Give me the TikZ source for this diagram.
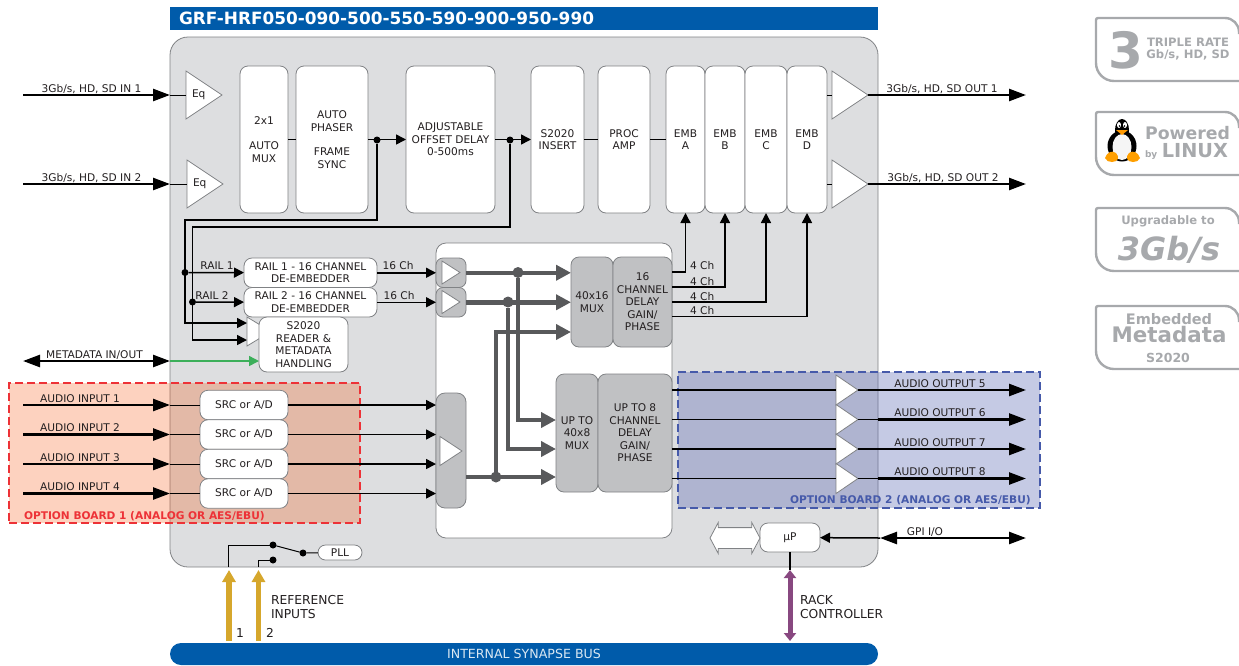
\documentclass[tikz,border=0pt]{standalone}
\usepackage{fontspec}
\setmainfont{DejaVu Sans}
\usetikzlibrary{shapes.geometric, shapes.arrows, arrows.meta, positioning}
\definecolor{synblue}{RGB}{0, 91, 170}
\definecolor{panelgray}{RGB}{221, 222, 224}
\definecolor{edgegray}{RGB}{128, 130, 133}
\definecolor{blockgray}{RGB}{192, 193, 195}
\definecolor{heavygray}{RGB}{88, 89, 91}
\definecolor{inktext}{RGB}{35, 31, 32}
\definecolor{redzone}{RGB}{248, 76, 0}
\definecolor{bluezone}{RGB}{94, 108, 180}
\definecolor{redtext}{RGB}{237, 50, 55}
\definecolor{bluetext}{RGB}{70, 90, 170}
\definecolor{refgold}{RGB}{214, 167, 44}
\definecolor{rackpurple}{RGB}{136, 72, 128}
\definecolor{metagreen}{RGB}{60, 175, 90}
\definecolor{badgegray}{RGB}{167, 169, 172}
\begin{document}
\begin{tikzpicture}[
    x=1pt, y=-1pt,
    node distance=8pt,
    every node/.style={font=\fontsize{10.6}{12.5}\selectfont, text=inktext, inner sep=0pt, outer sep=0pt},
    panel/.style={rectangle, draw=edgegray, fill=panelgray, rounded corners=18pt, line width=0.8pt},
    block/.style={rectangle, draw=edgegray, fill=white, rounded corners=8pt, line width=0.8pt, align=center},
    tallblock/.style={block, minimum height=147pt},
    srcblock/.style={block, minimum width=88pt, minimum height=29.5pt},
    darkblock/.style={block, fill=blockgray},
    tri/.style={isosceles triangle, isosceles triangle stretches, draw=edgegray, fill=white, line width=0.8pt, anchor=west, minimum width=48pt, minimum height=36pt},
    smalltri/.style={tri, minimum width=30pt, minimum height=22pt},
    dot/.style={circle, fill=black, minimum size=7pt},
    heavydot/.style={circle, fill=heavygray, minimum size=11pt},
    zone/.style={rectangle, line width=1.2pt, dash pattern=on 8pt off 4pt},
    sig/.style={anchor=base},
    wire/.style={line width=1pt, black},
    signal/.style={-{Triangle[length=10pt,width=10pt]}, line width=1.5pt, black},
    bigarrow/.style={-{Triangle[length=17pt,width=12pt]}, line width=2.5pt, black},
    heavy/.style={-{Triangle[length=15pt,width=15pt]}, line width=4.5pt, heavygray},
    fatarrow/.style={{Triangle[length=8pt,width=12pt]}-{Triangle[length=8pt,width=12pt]}, line width=5pt},
    badge/.style={draw=badgegray, line width=2.4pt},
    badgetext/.style={text=badgegray, font=\bfseries, align=center}
]
\useasboundingbox (0,0) rectangle (1239,665);

\node[rectangle, fill=synblue, minimum width=708pt, minimum height=23pt, anchor=north west] (titlebar) at (170,7) {};
\node[anchor=west, text=white, font=\fontsize{16.9}{18}\selectfont\bfseries] (titletext) at (179,18) {GRF-HRF050-090-500-550-590-900-950-990};
\node[panel, minimum width=708pt, minimum height=530pt, anchor=north west] (card) at (170,37) {};
\node[rectangle, fill=synblue, rounded corners=11pt, minimum width=708pt, minimum height=22pt, anchor=north west] (busbar) at (170,643) {};
\node[text=white!85!synblue, font=\fontsize{12.6}{14}\selectfont] (bustext) at (524,654) {INTERNAL SYNAPSE BUS};

\node[zone, draw=redtext, fill=redzone, fill opacity=0.25, text opacity=1, minimum width=351pt, minimum height=140pt, anchor=north west] (optiona) at (9,383) {};
\node[zone, draw=bluetext, fill=bluezone, fill opacity=0.36, text opacity=1, minimum width=362pt, minimum height=136pt, anchor=north west] (optionb) at (678,372) {};
\node[anchor=base west, text=redtext, font=\fontsize{10.6}{12}\selectfont\bfseries] (optionatext) at (24,519) {OPTION BOARD 1 (ANALOG OR AES/EBU)};
\node[anchor=base west, text=bluetext, font=\fontsize{10.6}{12}\selectfont\bfseries] (optionbtext) at (790,503) {OPTION BOARD 2 (ANALOG OR AES/EBU)};

\node[panel, fill=white, rounded corners=10pt, minimum width=236pt, minimum height=295pt, anchor=north west] (mixer) at (436,243) {};

\node[tri] (eqa) at (186,95) {};
\node[tri] (eqb) at (187,184) {};
\node[right=6pt of eqa.west] (eqatext) {Eq};
\node[right=6pt of eqb.west] (eqbtext) {Eq};

\node[tallblock, minimum width=48pt, anchor=north west] (automux) at (240,66) {2x1\\[12.5pt]AUTO\\MUX};
\node[tallblock, minimum width=72pt, right=of automux] (phaser) {AUTO\\PHASER\\[12pt]FRAME\\SYNC};
\node[tallblock, minimum width=89pt, right=38pt of phaser] (delay) {ADJUSTABLE\\OFFSET DELAY\\0-500ms};
\node[tallblock, minimum width=53pt, right=36pt of delay] (insert) {S2020\\INSERT};
\node[tallblock, minimum width=52pt, right=14pt of insert] (procamp) {PROC\\AMP};
\node[tallblock, minimum width=39pt, right=16pt of procamp] (emba) {EMB\\A};
\node[tallblock, minimum width=40pt, right=0pt of emba] (embb) {EMB\\B};
\node[tallblock, minimum width=42pt, right=0pt of embb] (embc) {EMB\\C};
\node[tallblock, minimum width=40pt, right=0pt of embc] (embd) {EMB\\D};
\node[tri] (outa) at (832,95) {};
\node[tri] (outb) at (832,184) {};

\coordinate (ina) at (23,95);
\coordinate (inb) at (23,184);
\coordinate (edgea) at (170,95);
\coordinate (edgeb) at (170,184);
\coordinate (enda) at (1026,95);
\coordinate (endb) at (1026,184);
\coordinate (emboa) at (827,95);
\coordinate (embob) at (827,184);
\draw[wire] (edgea) -- (eqa.west);
\draw[wire] (edgeb) -- (eqb.west);
\draw[bigarrow] (ina) -- (edgea);
\draw[bigarrow] (inb) -- (edgeb);
\draw[wire] (emboa) -- (outa.west);
\draw[wire] (embob) -- (outb.west);
\draw[bigarrow] (outa.east) -- (enda);
\draw[bigarrow] (outb.east) -- (endb);
\node[sig] (inatext) at (91.5,92.5) {3Gb/s, HD, SD IN 1};
\node[sig] (inbtext) at (91.5,181) {3Gb/s, HD, SD IN 2};
\node[sig] (outatext) at (942,92.5) {3Gb/s, HD, SD OUT 1};
\node[sig] (outbtext) at (943,181.5) {3Gb/s, HD, SD OUT 2};

\draw[wire] (automux) -- (phaser);
\draw[signal] (phaser) -- (delay);
\draw[signal] (delay) -- (insert);
\draw[wire] (insert) -- (procamp);
\draw[wire] (procamp) -- (emba);
\node[dot] (dotphaser) at (377,140) {};
\node[dot] (dotdelay) at (510,140) {};

\node[block, minimum width=133pt, minimum height=29.5pt, anchor=north west] (railadeemb) at (244,258) {RAIL 1 - 16 CHANNEL\\DE-EMBEDDER};
\node[block, minimum width=133pt, minimum height=29.5pt, below=0pt of railadeemb] (railbdeemb) {RAIL 2 - 16 CHANNEL\\DE-EMBEDDER};
\node[tri, minimum width=29pt, minimum height=24pt] (readertri) at (247,331.5) {};
\node[block, minimum width=89pt, minimum height=55pt, anchor=north west] (reader) at (259,317) {S2020\\READER \&\\METADATA\\HANDLING};

\node[dot] (dotraila) at (185,272.5) {};
\node[dot] (dotrailb) at (192.5,302) {};
\coordinate (trunka) at (185,220);
\coordinate (trunkb) at (192.5,227);
\coordinate (readera) at (247,323);
\coordinate (readerb) at (247,340);
\coordinate (tapa) at (377,220);
\coordinate (tapb) at (510,227);
\draw[signal] (dotphaser) -- (tapa) -- (trunka) |- (readera);
\draw[signal] (dotdelay) -- (tapb) -- (trunkb) |- (readerb);
\draw[signal] (dotraila) -- (railadeemb);
\draw[signal] (dotrailb) -- (railbdeemb);
\node[sig] (railatext) at (217,269) {RAIL 1};
\node[sig] (railbtext) at (212,299) {RAIL 2};

\node[darkblock, rounded corners=7pt, minimum width=30pt, minimum height=29.5pt, anchor=north west] (bufa) at (436,258) {};
\node[darkblock, rounded corners=7pt, minimum width=30pt, minimum height=29.5pt, below=0pt of bufa] (bufb) {};
\node[darkblock, rounded corners=9pt, minimum width=30pt, minimum height=115pt, anchor=north west] (bufc) at (436,393) {};
\node[smalltri, minimum width=23pt, minimum height=18pt] (triana) at (442,272.5) {};
\node[smalltri, minimum width=23pt, minimum height=18pt] (trianb) at (442,302) {};
\node[smalltri, minimum width=29pt, minimum height=22pt] (trianc) at (440,451) {};

\draw[signal] (railadeemb) -- (bufa);
\draw[signal] (railbdeemb) -- (bufb);
\node[sig] (chatext) at (398,269) {16 Ch};
\node[sig] (chbtext) at (399,299) {16 Ch};

\node[darkblock, minimum width=42pt, minimum height=90pt, anchor=north west] (muxa) at (571,257) {40x16\\MUX};
\node[darkblock, minimum width=59pt, minimum height=90pt, right=0pt of muxa] (gaina) {16\\CHANNEL\\DELAY\\GAIN/\\PHASE};
\node[darkblock, minimum width=42pt, minimum height=118pt, anchor=north west] (muxb) at (556,374) {UP TO\\40x8\\MUX};
\node[darkblock, minimum width=74pt, minimum height=118pt, right=0pt of muxb] (gainb) {UP TO 8\\CHANNEL\\DELAY\\GAIN/\\PHASE};

\coordinate (busc) at (466,477);
\node[heavydot] (dota) at (518,272.5) {};
\node[heavydot] (dotb) at (508,302) {};
\node[heavydot] (dotc) at (496,477) {};
\coordinate (mixa) at (518,420);
\coordinate (mixb) at (508,449);
\coordinate (mixc) at (496,332);
\draw[heavy] (bufa.east) -- (muxa.west |- bufa.east);
\draw[heavy] (bufb.east) -- (muxa.west |- bufb.east);
\draw[heavy] (dota) |- (muxb.west |- mixa);
\draw[heavy] (dotb) |- (muxb.west |- mixb);
\draw[heavy] (dotc) |- (muxa.west |- mixc);
\draw[heavy] (busc) -- (muxb.west |- busc);

\coordinate (gaa) at (672,272);
\coordinate (gab) at (672,287);
\coordinate (gac) at (672,302);
\coordinate (gad) at (672,316.5);
\draw[signal] (gaa) -| (emba.south);
\draw[signal] (gab) -| (embb.south);
\draw[signal] (gac) -| (embc.south);
\draw[signal] (gad) -| (embd.south);
\node[sig, anchor=base west] (fourchaa) at (690,269) {4 Ch};
\node[sig, anchor=base west] (fourchab) at (690,285) {4 Ch};
\node[sig, anchor=base west] (fourchac) at (690,300) {4 Ch};
\node[sig, anchor=base west] (fourchad) at (690,314) {4 Ch};

\coordinate (metaa) at (23,361);
\coordinate (metab) at (170,361);
\draw[{Triangle[length=17pt,width=12pt]}-{Triangle[length=17pt,width=12pt]}, line width=2.5pt] (metaa) -- (metab);
\draw[-{Triangle[length=10pt,width=10pt]}, line width=1.5pt, metagreen] (metab) -- (reader.west |- metab);
\node[sig] (metatext) at (94.5,358) {METADATA IN/OUT};

\foreach \idx/\ypos/\lbl in {a/405/1, b/434.5/2, c/464/3, d/493.5/4} {
    \node[srcblock] (src\idx) at (244,\ypos) {SRC or A/D};
    \coordinate (audin\idx) at (23,\ypos);
    \coordinate (audedge\idx) at (170,\ypos);
    \draw[wire] (audedge\idx) -- (src\idx);
    \draw[bigarrow] (audin\idx) -- (audedge\idx);
    \draw[signal] (src\idx) -- (bufc.west |- src\idx);
    \node[sig] (audtext\idx) at (80,\ypos-3) {AUDIO INPUT \lbl};
}

\foreach \idx/\ypos/\lbl in {a/390/5, b/419.5/6, c/449/7, d/478.5/8} {
    \node[smalltri] (audtri\idx) at (836,\ypos) {};
    \coordinate (audsrc\idx) at (672,\ypos);
    \coordinate (audout\idx) at (1026,\ypos);
    \coordinate (audcard\idx) at (878,\ypos);
    \draw[wire, line width=1.3pt] (audsrc\idx) -- (audtri\idx.west);
    \draw[wire, line width=1.3pt] (audtri\idx.east) -- (audcard\idx);
    \draw[bigarrow] (audcard\idx) -- (audout\idx);
    \node[sig] (audouttext\idx) at (940,\ypos-3) {AUDIO OUTPUT \lbl};
}

\node[block, minimum width=60pt, minimum height=29pt, anchor=north west] (micro) at (760,523) {µP};
\node[double arrow, draw=edgegray, fill=white, line width=0.8pt, inner ysep=10pt, minimum height=50pt, minimum width=30pt, double arrow head extend=5pt, double arrow head indent=0pt, double arrow tip angle=124, anchor=east] (hostarrow) at (760,538) {};
\coordinate (gpia) at (880,538);
\coordinate (gpib) at (1026,538);
\draw[-{Triangle[length=10pt,width=10pt]}, line width=1.5pt] (gpia) -- (micro);
\draw[{Triangle[length=17pt,width=12pt]}-{Triangle[length=17pt,width=12pt]}, line width=2.5pt] (gpia) -- (gpib);
\node[sig] (gpitext) at (925,535) {GPI I/O};

\coordinate (racka) at (790,570);
\coordinate (rackb) at (790,641);
\draw[wire, line width=1.2pt] (micro) -- (racka);
\draw[fatarrow, rackpurple] (racka) -- (rackb);
\node[align=left, anchor=west, font=\fontsize{12.3}{14.5}\selectfont] (racktext) at (800,607) {RACK\\CONTROLLER};

\coordinate (refa) at (229,641);
\coordinate (refb) at (258.5,641);
\coordinate (refatip) at (229,570);
\coordinate (refbtip) at (258.5,570);
\draw[-{Triangle[length=12pt,width=13pt]}, line width=5.5pt, refgold] (refa) -- (refatip);
\draw[-{Triangle[length=12pt,width=13pt]}, line width=5.5pt, refgold] (refb) -- (refbtip);
\node[sig, anchor=base west, font=\fontsize{12.3}{14}\selectfont] (refaidx) at (236,637.5) {1};
\node[sig, anchor=base west, font=\fontsize{12.3}{14}\selectfont] (refbidx) at (266,637.5) {2};
\node[align=left, anchor=west, font=\fontsize{12.3}{14.5}\selectfont] (reftext) at (271,607) {REFERENCE\\INPUTS};

\node[block, rounded corners=7.5pt, minimum width=44pt, minimum height=15pt, anchor=north west] (pll) at (318,545) {PLL};
\node[dot] (swa) at (273,545) {};
\node[dot] (swb) at (273,560) {};
\node[dot] (swc) at (303,553) {};
\coordinate (refaedge) at (228,567);
\coordinate (refbedge) at (258,567);
\draw[wire] (refaedge) |- (swa);
\draw[wire] (refbedge) |- (swb);
\draw[wire] (swa) -- (swc) -- (pll);

\foreach \ytop in {18, 112, 208, 306} {
    \draw[badge] (1239,\ytop+16) [rounded corners=14pt] -- (1239,\ytop) [rounded corners=2pt] -- (1096,\ytop) [rounded corners=18pt] -- (1096,\ytop+63) -- (1250,\ytop+63);
}
\node[badgetext, font=\fontsize{50}{50}\selectfont\bfseries] (threebig) at (1126,50) {3};
\node[badgetext, font=\fontsize{11.6}{12}\selectfont\bfseries] (triplerate) at (1188,49) {TRIPLE RATE\\Gb/s, HD, SD};
\node[badgetext, font=\fontsize{17.3}{18}\selectfont\bfseries, anchor=base east] (poweredtext) at (1230,139) {Powered};
\node[badgetext, font=\fontsize{9}{10}\selectfont\bfseries, anchor=base west] (bytext) at (1145,157) {by};
\node[badgetext, font=\fontsize{19.3}{20}\selectfont\bfseries, anchor=base east] (linuxtext) at (1228,157) {LINUX};
\node[badgetext, font=\fontsize{11.6}{12}\selectfont\bfseries] (upgradetext) at (1168,221) {Upgradable to};
\node[badgetext, font=\fontsize{32}{33}\selectfont\bfseries\itshape] (threegbtext) at (1169,250) {3Gb/s};
\node[badgetext, font=\fontsize{14.5}{15}\selectfont\bfseries] (embeddedtext) at (1169,319) {Embedded};
\node[badgetext, font=\fontsize{21.4}{22}\selectfont\bfseries] (metadatatext) at (1169,335) {Metadata};
\node[badgetext, font=\fontsize{12.5}{13}\selectfont\bfseries] (stwentytext) at (1168,358) {S2020};

\fill[black] (1122,130) ellipse (7pt and 11pt);
\fill[black] (1122,146) ellipse (14.5pt and 15.5pt);
\fill[white!92!gray] (1122,147) ellipse (9.5pt and 13pt);
\fill[white] (1119,125) ellipse (2pt and 3pt) (1125,125) ellipse (2pt and 3pt);
\fill[black] (1119.5,126) circle (0.9pt) (1124.5,126) circle (0.9pt);
\fill[orange!80!yellow] (1116,130) -- (1128,130) -- (1122,135) -- cycle;
\fill[orange!75!yellow] (1105,158) .. controls (1107,152) and (1112,150) .. (1116,153) .. controls (1120,157) and (1118,162) .. (1112,162) .. controls (1109,162) and (1106,161) .. (1105,158) -- cycle;
\fill[orange!75!yellow] (1140,158) .. controls (1138,152) and (1133,150) .. (1129,153) .. controls (1125,157) and (1127,162) .. (1133,162) .. controls (1136,162) and (1139,161) .. (1140,158) -- cycle;
\end{tikzpicture}
\end{document}
